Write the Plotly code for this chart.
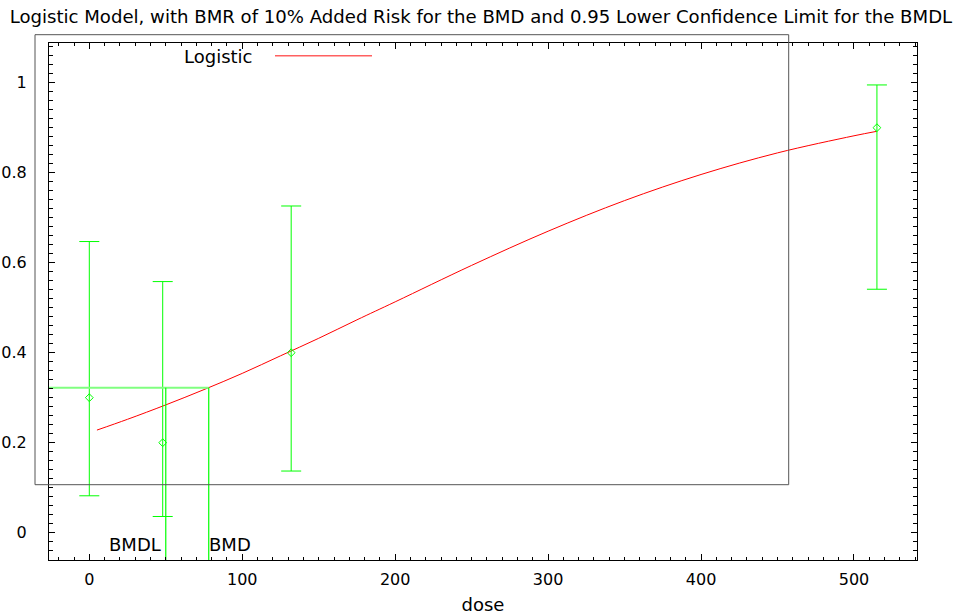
import plotly.graph_objects as go

# Observed dose groups: response fraction and 95% confidence limits
doses = [0, 48, 132, 515]
response = [0.30, 0.20, 0.40, 0.90]
ci_lower = [0.082, 0.036, 0.137, 0.541]
ci_upper = [0.647, 0.558, 0.726, 0.995]

# Fitted logistic curve
curve_dose = [5, 25, 50, 75, 100, 125, 150, 175, 200, 250, 300, 350, 400, 450, 500, 515]
curve_resp = [0.228, 0.252, 0.284, 0.318, 0.354, 0.393, 0.432, 0.473, 0.513,
              0.594, 0.670, 0.738, 0.796, 0.844, 0.882, 0.892]

# Benchmark dose results
bmd = 78.1
bmdl = 50.0
bmr_level = 0.3223

x_ticks = [0, 100, 200, 300, 400, 500]
y_ticks = [0, 0.2, 0.4, 0.6, 0.8, 1]
y_tick_text = ["0", "0.2", "0.4", "0.6", "0.8", "1"]

x_range = [-26.35, 541.2]
y_range = [-0.0607, 1.0882]

GREEN = "#00ff00"
LIGHT_GREEN = "#80ff80"
RED = "#ff0000"
FONT = "DejaVu Sans, Liberation Sans, Arial, sans-serif"

# Plot area in pixels (used to place the key inside the frame)
L, R, T, B = 49, 41, 43, 55
W, H = 958, 615
PW, PH = W - L - R, H - T - B


def px_x(x):
    return (x - L) / PW


def px_y(y):
    return (H - B - y) / PH


fig = go.Figure()

# Fitted model
fig.add_trace(go.Scatter(
    x=curve_dose, y=curve_resp, mode="lines", line_shape="spline",
    line=dict(color=RED, width=1), showlegend=False, hoverinfo="skip",
))

# Observed data with confidence interval bars
fig.add_trace(go.Scatter(
    x=doses, y=response, mode="markers",
    marker=dict(symbol="diamond-open", size=6, color=GREEN, line=dict(width=1, color=GREEN)),
    error_y=dict(
        type="data", symmetric=False,
        array=[u - r for u, r in zip(ci_upper, response)],
        arrayminus=[r - l for r, l in zip(response, ci_lower)],
        color=GREEN, thickness=1, width=10,
    ),
    showlegend=False,
))

# BMR level line and BMD / BMDL drop lines
fig.add_trace(go.Scatter(
    x=[x_range[0], bmd], y=[bmr_level, bmr_level],
    mode="lines", line=dict(color=LIGHT_GREEN, width=2), showlegend=False, hoverinfo="skip",
))
fig.add_trace(go.Scatter(
    x=[bmd, bmd], y=[bmr_level, y_range[0]],
    mode="lines", line=dict(color=GREEN, width=1.2), showlegend=False, hoverinfo="skip",
))
fig.add_trace(go.Scatter(
    x=[bmdl, bmdl], y=[bmr_level, y_range[0]],
    mode="lines", line=dict(color=GREEN, width=1.2), showlegend=False, hoverinfo="skip",
))

fig.add_annotation(x=bmdl, y=-0.027, text="BMDL", showarrow=False,
                   xanchor="right", yanchor="middle", xshift=-3,
                   font=dict(family=FONT, size=18, color="black"))
fig.add_annotation(x=bmd, y=-0.027, text="BMD", showarrow=False,
                   xanchor="left", yanchor="middle", xshift=-2,
                   font=dict(family=FONT, size=18, color="black"))

# Key box with its entry
fig.add_shape(type="rect", xref="paper", yref="paper",
              x0=px_x(35), x1=px_x(788.7), y0=px_y(484.7), y1=px_y(34.7),
              line=dict(color="#555555", width=1), fillcolor="rgba(0,0,0,0)")
fig.add_annotation(xref="paper", yref="paper", x=px_x(182), y=px_y(56),
                   text="Logistic", showarrow=False, xanchor="left", yanchor="middle",
                   font=dict(family=FONT, size=18, color="black"))
fig.add_shape(type="line", xref="paper", yref="paper",
              x0=px_x(275), x1=px_x(372), y0=px_y(55.7), y1=px_y(55.7),
              line=dict(color="#ff6060", width=1.5))

axis_common = dict(
    showline=True, linecolor="black", linewidth=1.2, mirror="ticks",
    ticks="inside", ticklen=6, tickcolor="black", showgrid=False, zeroline=False,
    automargin=False,
    tickfont=dict(family=FONT, size=16, color="black"),
)

fig.update_xaxes(
    range=x_range, tickvals=x_ticks, ticklabelstandoff=5,
    minor=dict(dtick=10, tick0=0, ticks="inside", ticklen=3, tickcolor="black", showgrid=False),
    title=dict(text="dose", font=dict(family=FONT, size=18, color="black"), standoff=11),
    **axis_common,
)
fig.update_yaxes(
    range=y_range, tickvals=y_ticks, ticktext=y_tick_text, ticklabelstandoff=18,
    minor=dict(dtick=0.02, tick0=0, ticks="inside", ticklen=4, tickcolor="black", showgrid=False),
    **axis_common,
)

fig.update_layout(
    width=W, height=H,
    margin=dict(l=L, r=R, t=T, b=B, autoexpand=False),
    paper_bgcolor="white", plot_bgcolor="white",
    title=dict(
        text="Logistic Model, with BMR of 10% Added Risk for the BMD and 0.95 Lower Confidence Limit for the BMDL",
        x=0.502, xanchor="center", y=1 - 17 / H, yanchor="middle", yref="container",
        automargin=False,
        font=dict(family=FONT, size=18.1, color="black"),
    ),
    showlegend=False,
)

fig.write_html("out.html")
